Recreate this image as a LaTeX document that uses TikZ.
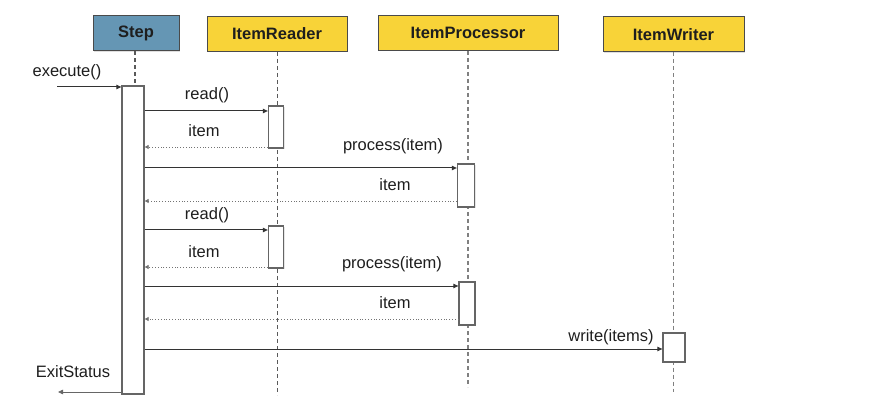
\documentclass[tikz,border=0pt]{standalone}
\usepackage{fontspec}
\setmainfont{Liberation Sans}
\usetikzlibrary{arrows.meta,shadows}
\definecolor{stepblue}{HTML}{6596B4}
\definecolor{itemyellow}{HTML}{F8D338}
\definecolor{boxline}{HTML}{4A4A4A}
\definecolor{txt}{HTML}{1E1E1E}
\tikzset{
  hdr/.style={draw=boxline, line width=1pt, minimum height=35pt, inner sep=0pt,
    font=\fontsize{16.5pt}{19pt}\selectfont\bfseries, text=txt,
    drop shadow={shadow xshift=1pt, shadow yshift=-1pt, opacity=0.25}},
  act/.style={draw=boxline!85, fill=white, line width=1.3pt, inner sep=0pt,
    drop shadow={shadow xshift=1.2pt, shadow yshift=-1.2pt, opacity=0.2}},
  lifeline/.style={draw=black!50, line width=1.6pt, dash pattern=on 4pt off 3pt},
  darklife/.style={draw=black!65, line width=0.9pt, dash pattern=on 4pt off 3pt},
  msg/.style={draw=black!80, line width=1pt, -{Triangle[length=5pt,width=4.5pt]}},
  ret/.style={draw=black!55, line width=0.8pt, dotted, -{Triangle[length=4pt,width=4pt]}},
  lbl/.style={font=\fontsize{16.5pt}{19pt}\selectfont, text=txt, inner sep=0pt}
}
\begin{document}
\begin{tikzpicture}[x=1pt,y=-1pt]
\useasboundingbox (0,0) rectangle (889,414);
% headers
\node[hdr, fill=stepblue, minimum width=86pt] (step) at (136,33.5) {Step};
\node[hdr, fill=itemyellow, minimum width=140pt] (reader) at (277,34) {ItemReader};
\node[hdr, fill=itemyellow, minimum width=180pt] (proc) at (468,33) {ItemProcessor};
\node[hdr, fill=itemyellow, minimum width=141pt] (writer) at (673.5,34.5) {ItemWriter};
% lifeline ends
\coordinate (stepend) at (135,86);
\coordinate (readerend) at (277,395);
\coordinate (procend) at (468,387);
\coordinate (writerend) at (673.5,392);
\draw[darklife, line width=1.2pt] (step.south -| stepend) -- (stepend);
\draw[darklife] (reader.south) -- (readerend);
\draw[lifeline] (proc.south) -- (procend);
\draw[lifeline] (writer.south) -- (writerend);
% activations
\node[act, minimum width=22pt, minimum height=308pt] (sa) at (133,240) {};
\node[act, minimum width=15pt, minimum height=42pt] (ra1) at (276,127) {};
\node[act, minimum width=17pt, minimum height=43pt] (pa1) at (466,185.5) {};
\node[act, minimum width=15pt, minimum height=42pt] (ra2) at (276,247) {};
\node[act, minimum width=16pt, minimum height=43pt] (pa2) at (467,303.5) {};
\node[act, minimum width=22pt, minimum height=29pt] (wa) at (674,347.5) {};
% message anchor coordinates
\coordinate (inexec) at (57,87);
\coordinate (outexit) at (58,392);
\coordinate (y1) at (0,111);
\coordinate (y2) at (0,147);
\coordinate (y3) at (0,168);
\coordinate (y4) at (0,201);
\coordinate (y5) at (0,230);
\coordinate (y6) at (0,267);
\coordinate (y7) at (0,286);
\coordinate (y8) at (0,319);
\coordinate (y9) at (0,349);
% messages
\draw[msg] (inexec) -- (inexec -| sa.west);
\draw[msg] (sa.east |- y1) -- (ra1.west |- y1);
\draw[ret] (ra1.west |- y2) -- (sa.east |- y2);
\draw[msg] (sa.east |- y3) -- (pa1.west |- y3);
\draw[ret] (pa1.west |- y4) -- (sa.east |- y4);
\draw[msg] (sa.east |- y5) -- (ra2.west |- y5);
\draw[ret] (ra2.west |- y6) -- (sa.east |- y6);
\draw[msg] (sa.east |- y7) -- (pa2.west |- y7);
\draw[ret] (pa2.west |- y8) -- (sa.east |- y8);
\draw[msg] (sa.east |- y9) -- (wa.west |- y9);
\draw[msg, draw=black!60, line width=0.8pt] (sa.west |- outexit) -- (outexit);
% labels
\node[lbl] (lexec) at (67,72) {execute()};
\node[lbl] (lr1) at (207,95) {read()};
\node[lbl] (li1) at (204,131) {item};
\node[lbl] (lp1) at (393,146) {process(item)};
\node[lbl] (li2) at (395,185) {item};
\node[lbl] (lr2) at (207,215) {read()};
\node[lbl] (li3) at (204,252) {item};
\node[lbl] (lp2) at (392,264) {process(item)};
\node[lbl] (li4) at (395,303) {item};
\node[lbl] (lw) at (611,337) {write(items)};
\node[lbl] (lx) at (73,372) {ExitStatus};
\end{tikzpicture}
\end{document}
